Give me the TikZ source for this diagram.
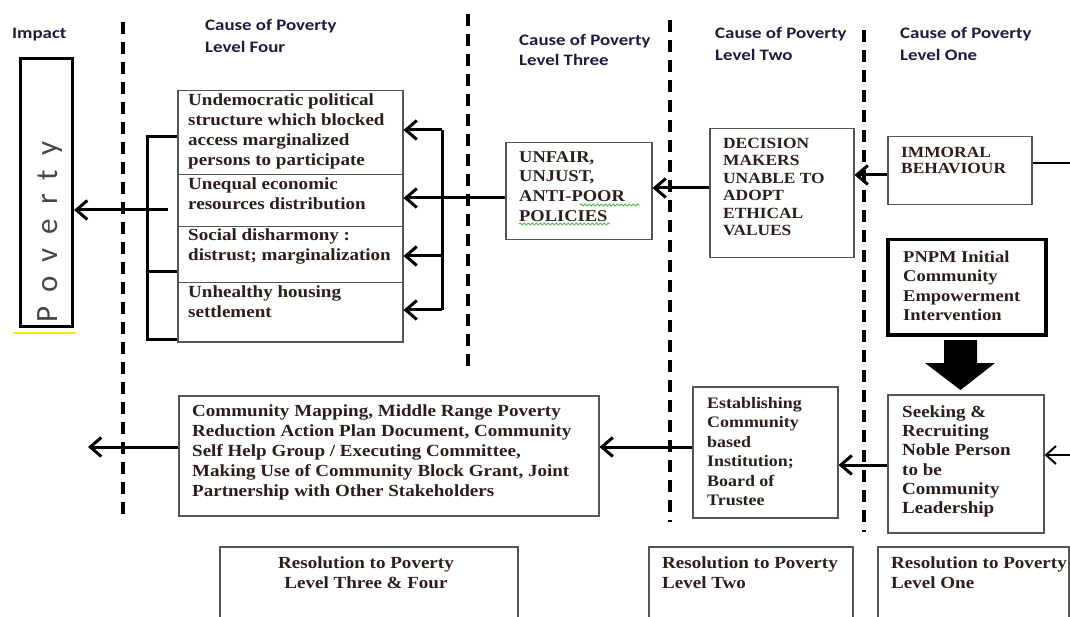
\documentclass[tikz,border=0pt]{standalone}
\usepackage{fontspec}
\usetikzlibrary{arrows.meta,decorations.pathmorphing,calc}
\newfontfamily\bx{Liberation Serif}[FakeStretch=1.12]
\newfontfamily\hd{Carlito}[FakeStretch=1.18]
\newfontfamily\pv{Carlito}
\definecolor{ink}{RGB}{45,30,25}
\definecolor{navy}{RGB}{28,28,64}
\definecolor{frame}{RGB}{85,85,85}
\definecolor{spell}{RGB}{90,175,90}
\definecolor{hl}{RGB}{255,230,0}
\definecolor{pvgray}{RGB}{70,70,70}
\newcommand\topln{\rule{0pt}{13pt}}
\begin{document}
\begin{tikzpicture}[x=1pt,y=-1pt,
  box/.style={draw=frame,line width=1.5pt,inner sep=0pt,anchor=north west},
  txt/.style={text=ink,inner sep=0pt,anchor=north west,align=left,font=\bx\bfseries\fontsize{17}{20}\selectfont},
  head/.style={text=navy,inner sep=0pt,anchor=north west,align=left,font=\hd\bfseries\fontsize{16}{22}\selectfont},
  divider/.style={line width=3.3pt,dash pattern=on 12pt off 8pt},
  link/.style={line width=3pt},
  arr/.style={line width=3pt,-{Straight Barb[length=11pt,width=19pt]}},
  thinarr/.style={line width=2pt,-{Straight Barb[length=10pt,width=18pt]}},
]
\useasboundingbox (0,0) rectangle (1070,617);

% column dividers
\draw[divider] (123,22) -- (123,515);
\draw[divider] (468,14) -- (468,370);
\draw[divider] (670,20) -- (670,522);
\draw[divider] (864,30) -- (864,532);

% headers
\node[head] (h0) at (12,25) {\topln Impact};
\node[head] (h4) at (205,17) {\topln Cause of Poverty\\Level Four};
\node[head,font=\hd\bfseries\fontsize{16}{20}\selectfont] (h3) at (519,32) {\topln Cause of Poverty\\Level Three};
\node[head] (h2) at (715,25) {\topln Cause of Poverty\\Level Two};
\node[head] (h1) at (900,25) {\topln Cause of Poverty\\Level One};

% impact
\node[draw=black,line width=3pt,minimum width=52,minimum height=268,inner sep=0pt,anchor=north west] (pov) at (19,57) {};
\node[rotate=90,anchor=base west,inner sep=0pt,text=pvgray,font=\pv\fontsize{31}{31}\selectfont] (pw) at (57,323) {\spaceskip=14pt\relax P o v e r t y};
\draw[hl,line width=2pt] (13,333) -- (76,333);

% level four
\node[box,minimum width=225,minimum height=84] (b1) at (177,90) {};
\node[box,minimum width=225,minimum height=52] (b2) at (177,174) {};
\node[box,minimum width=225,minimum height=56] (b3) at (177,226) {};
\node[box,minimum width=225,minimum height=59] (b4) at (177,282) {};
\node[txt] (t1) at (188,92) {\topln Undemocratic political\\structure which blocked\\access marginalized\\persons to participate};
\node[txt] (t2) at (188,176) {\topln Unequal economic\\resources distribution};
\node[txt] (t3) at (188,227) {\topln Social disharmony :\\distrust; marginalization};
\node[txt] (t4) at (188,284) {\topln Unhealthy housing\\settlement};

% level three
\node[box,minimum width=146,minimum height=97] (unfair) at (505,142) {};
\node[txt,font=\bx\bfseries\fontsize{16.5}{19.7}\selectfont] (tu) at (519,149) {\topln UNFAIR,\\UNJUST,\\ANTI-POOR\\POLICIES};
\draw[spell,line width=0.9pt,decorate,decoration={snake,amplitude=1pt,segment length=4pt}] (580,205) -- (640,205);
\draw[spell,line width=0.9pt,decorate,decoration={snake,amplitude=1pt,segment length=4pt}] (519,224) -- (610,224);

% level two
\node[box,minimum width=144,minimum height=129] (dec) at (709,128) {};
\node[txt,font=\bx\bfseries\fontsize{15.5}{17.5}\selectfont] (td) at (723,135) {\topln DECISION\\MAKERS\\UNABLE TO\\ADOPT\\ETHICAL\\VALUES};

% level one
\node[box,minimum width=144,minimum height=68] (imm) at (887,136) {};
\node[txt,font=\bx\bfseries\fontsize{15.5}{16.5}\selectfont] (ti) at (901,144) {\topln IMMORAL\\BEHAVIOUR};
\node[draw=black,line width=3.5pt,inner sep=0pt,anchor=north west,minimum width=158,minimum height=95] (pnpm) at (886,238) {};
\node[txt,font=\bx\bfseries\fontsize{16.5}{19.5}\selectfont] (tp) at (903,249) {\topln PNPM Initial\\Community\\Empowerment\\Intervention};
\fill[black] (944,340) -- (977,340) -- (977,363) -- (995,363) -- (960.5,390) -- (925,363) -- (944,363) -- cycle;

% resolution row
\node[box,minimum width=156,minimum height=138] (seek) at (887,394) {};
\node[txt,font=\bx\bfseries\fontsize{17}{19.3}\selectfont] (ts) at (902,404) {\topln Seeking \&\\Recruiting\\Noble Person\\to be\\Community\\Leadership};
\node[box,minimum width=145,minimum height=131] (est) at (692,386) {};
\node[txt,font=\bx\bfseries\fontsize{16}{19.5}\selectfont] (te) at (707,395) {\topln Establishing\\Community\\based\\Institution;\\Board of\\Trustee};
\node[box,minimum width=420,minimum height=120] (comm) at (178,395) {};
\node[txt] (tc) at (192,403) {\topln Community Mapping, Middle Range Poverty\\Reduction Action Plan Document, Community\\Self Help Group / Executing Committee,\\Making Use of Community Block Grant, Joint\\Partnership with Other Stakeholders};

% resolution labels
\node[box,minimum width=298,minimum height=80] (r1) at (219,546) {};
\node[box,minimum width=204,minimum height=80] (r2) at (648,546) {};
\node[box,minimum width=191,minimum height=80] (r3) at (877,546) {};
\node[txt,anchor=north,align=center] (r1t) at (366,555) {\topln Resolution to Poverty\\Level Three \& Four};
\node[txt] (r2t) at (662,555) {\topln Resolution to Poverty\\Level Two};
\node[txt] (r3t) at (891,555) {\topln Resolution to Poverty\\Level One};

% connectors: causes
\draw[link] (b1.west |- 0,137) -| (147,339) -- (b4.west |- 0,339);
\draw[link] (147,272) -- (b3.west |- 0,272);
\coordinate (feed) at (168,210);
\draw[arr] (feed) -- (pov.east |- feed);
\coordinate (fork) at (442,198);
\draw[link] (unfair.west |- fork) -- (fork);
\draw[link] (442,130) -- (442,310);
\draw[arr] (442,130) -- (b1.east |- 0,130);
\draw[arr] (fork) -- (b2.east |- fork);
\draw[arr] (442,256) -- (b3.east |- 0,256);
\draw[arr] (442,310) -- (b4.east |- 0,310);
\draw[arr] (dec.west |- 0,188) -- (unfair.east |- 0,188);
\draw[arr] (imm.west |- 0,175) -- (dec.east |- 0,175);
\coordinate (rin) at (1070,163);
\draw[line width=2pt] (imm.east |- rin) -- (rin);

% connectors: resolutions
\coordinate (rin2) at (1070,455);
\draw[thinarr] (rin2) -- (seek.east |- rin2);
\draw[arr] (seek.west |- 0,465) -- (est.east |- 0,465);
\draw[arr] (est.west |- 0,447) -- (comm.east |- 0,447);
\coordinate (out) at (88,447);
\draw[arr] (comm.west |- out) -- (out);
\end{tikzpicture}
\end{document}
